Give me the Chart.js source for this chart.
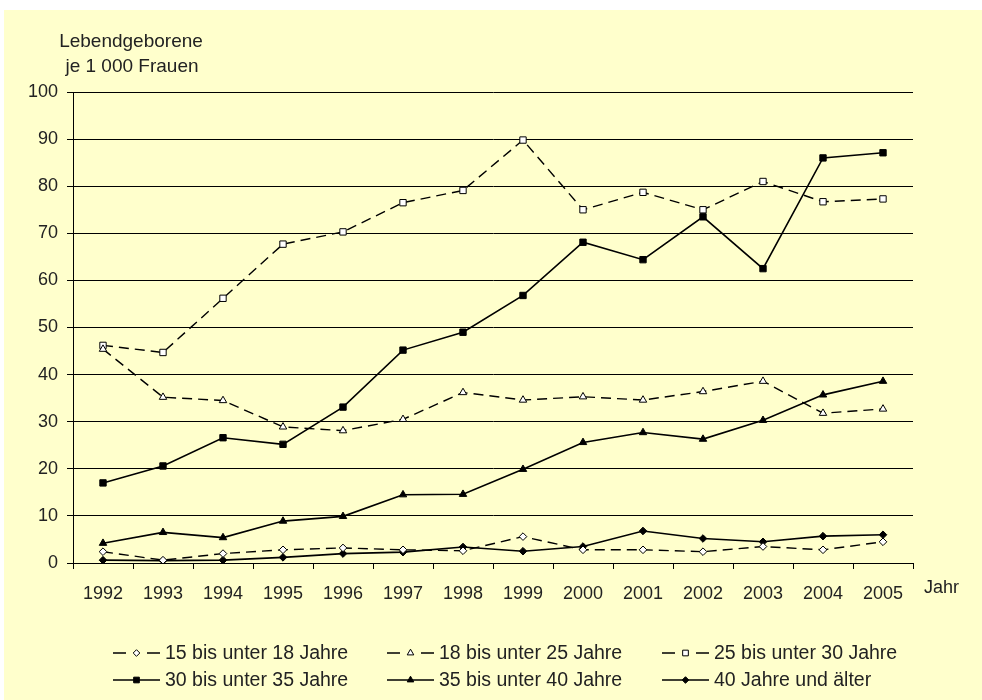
<html>
<head>
<script src="https://cdn.jsdelivr.net/npm/chart.js@4.4.0/dist/chart.umd.min.js"></script>
<style>
  body { margin: 0; background: #fff; }
  #box { position: absolute; left: 4px; top: 10px; width: 978px; height: 690px; background: #ffffcc; }
</style>
</head>
<body>
<div id="box"><canvas id="myChart" width="978" height="690"></canvas></div>
<script>
// data
var years = ['1992', '1993', '1994', '1995', '1996', '1997', '1998', '1999', '2000', '2001', '2002', '2003', '2004', '2005'];
var age15to18 = [2.4, 0.6, 2.0, 2.8, 3.2, 2.8, 2.6, 5.6, 2.8, 2.8, 2.4, 3.5, 2.8, 4.5];
var age18to25 = [45.4, 35.2, 34.5, 28.9, 28.1, 30.5, 36.2, 34.6, 35.3, 34.6, 36.4, 38.6, 31.8, 32.7];
var age25to30 = [46.2, 44.7, 56.2, 67.7, 70.3, 76.5, 79.1, 89.8, 75.0, 78.7, 75.0, 81.0, 76.7, 77.3];
var age30to35 = [17.0, 20.6, 26.6, 25.2, 33.1, 45.2, 49.0, 56.8, 68.1, 64.4, 73.5, 62.5, 86.0, 87.1];
var age35to40 = [4.2, 6.5, 5.4, 8.9, 9.9, 14.5, 14.6, 19.9, 25.6, 27.7, 26.3, 30.3, 35.7, 38.6];
var age40plus = [0.6, 0.5, 0.6, 1.2, 2.0, 2.3, 3.4, 2.5, 3.5, 6.8, 5.2, 4.5, 5.7, 6.0];
var seriesNames = ['15 bis unter 18 Jahre', '18 bis unter 25 Jahre', '25 bis unter 30 Jahre',
                   '30 bis unter 35 Jahre', '35 bis unter 40 Jahre', '40 Jahre und älter'];
var yTitle = ['Lebendgeborene', 'je 1 000 Frauen'];
var xTitle = 'Jahr';

var FONT = '"Liberation Sans", Arial, sans-serif';
var TEXT = '#222';

function series(i, values, style, open, dashed, r) {
    return {
        label: seriesNames[i],
        data: values,
        borderColor: '#000',
        borderWidth: dashed ? 1.4 : 1.6,
        borderDash: dashed ? [10, 6] : [],
        fill: false,
        tension: 0,
        pointStyle: style,
        pointRadius: r,
        pointHoverRadius: r,
        pointBorderColor: '#000',
        pointBorderWidth: 1,
        pointBackgroundColor: open ? '#fff' : '#000'
    };
}

// legend in three columns, drawn by hand, plus the axis titles
var decor = {
    id: 'decor',
    afterDraw: function(chart) {
        var ctx = chart.ctx;
        var area = chart.chartArea;
        ctx.save();
        ctx.fillStyle = TEXT;
        ctx.font = '19px ' + FONT;
        ctx.textAlign = 'center';
        ctx.textBaseline = 'alphabetic';
        ctx.fillText(yTitle[0], 127, 37);
        ctx.fillText(yTitle[1], 128, 62);
        ctx.font = '18px ' + FONT;
        ctx.textAlign = 'left';
        ctx.fillText(xTitle, area.right + 11, area.bottom + 30);

        var cols = [109, 383, 658];
        var rows = [643, 670];
        chart.data.datasets.forEach(function(ds, i) {
            var x = cols[i % 3];
            var y = rows[Math.floor(i / 3)];
            ctx.strokeStyle = '#000';
            ctx.lineWidth = ds.borderWidth;
            ctx.setLineDash([]);
            ctx.beginPath();
            if (ds.borderDash.length) {
                ctx.moveTo(x, y); ctx.lineTo(x + 13, y);
                ctx.moveTo(x + 34, y); ctx.lineTo(x + 47, y);
            } else {
                ctx.moveTo(x, y); ctx.lineTo(x + 47, y);
            }
            ctx.stroke();
            ctx.fillStyle = ds.pointBackgroundColor;
            ctx.lineWidth = 1;
            Chart.helpers.drawPoint(ctx, { pointStyle: ds.pointStyle, radius: ds.pointRadius - 0.5, borderWidth: 1, rotation: 0 }, x + 23.5, y);
            ctx.fillStyle = TEXT;
            ctx.font = '19.5px ' + FONT;
            ctx.textBaseline = 'middle';
            ctx.fillText(ds.label, x + 52, y + 1);
        });
        ctx.restore();
    }
};

var ctx = document.getElementById('myChart').getContext('2d');
var chart = new Chart(ctx, {
    type: 'line',
    data: {
        labels: years,
        datasets: [
            series(0, age15to18, 'rectRot', true, true, 3.8),
            series(1, age18to25, 'triangle', true, true, 4.3),
            series(2, age25to30, 'rect', true, true, 4.5),
            series(3, age30to35, 'rect', false, false, 4.5),
            series(4, age35to40, 'triangle', false, false, 4.3),
            series(5, age40plus, 'rectRot', false, false, 3.8)
        ]
    },
    options: {
        responsive: false,
        devicePixelRatio: 1,
        animation: false,
        layout: { padding: { top: 82, right: 69, bottom: 97, left: 0 } },
        plugins: {
            legend: { display: false },
            tooltip: { enabled: false }
        },
        scales: {
            x: {
                type: 'category',
                offset: true,
                grid: { offset: true, drawOnChartArea: false, drawTicks: true, tickLength: 6, color: '#000', lineWidth: 1 },
                border: { display: true, color: '#000', width: 1 },
                ticks: { color: TEXT, font: { family: FONT, size: 18 }, padding: 14, maxRotation: 0, autoSkip: false },
                afterFit: function(s) { s.height = 40; }
            },
            y: {
                min: 0,
                max: 100,
                grid: { color: '#000', lineWidth: 1, drawTicks: true, tickLength: 6 },
                border: { display: true, color: '#000', width: 1 },
                ticks: { stepSize: 10, color: TEXT, font: { family: FONT, size: 18 }, padding: 9 },
                afterFit: function(s) { s.width = 69; }
            }
        }
    },
    plugins: [decor]
});
</script>
</body>
</html>
